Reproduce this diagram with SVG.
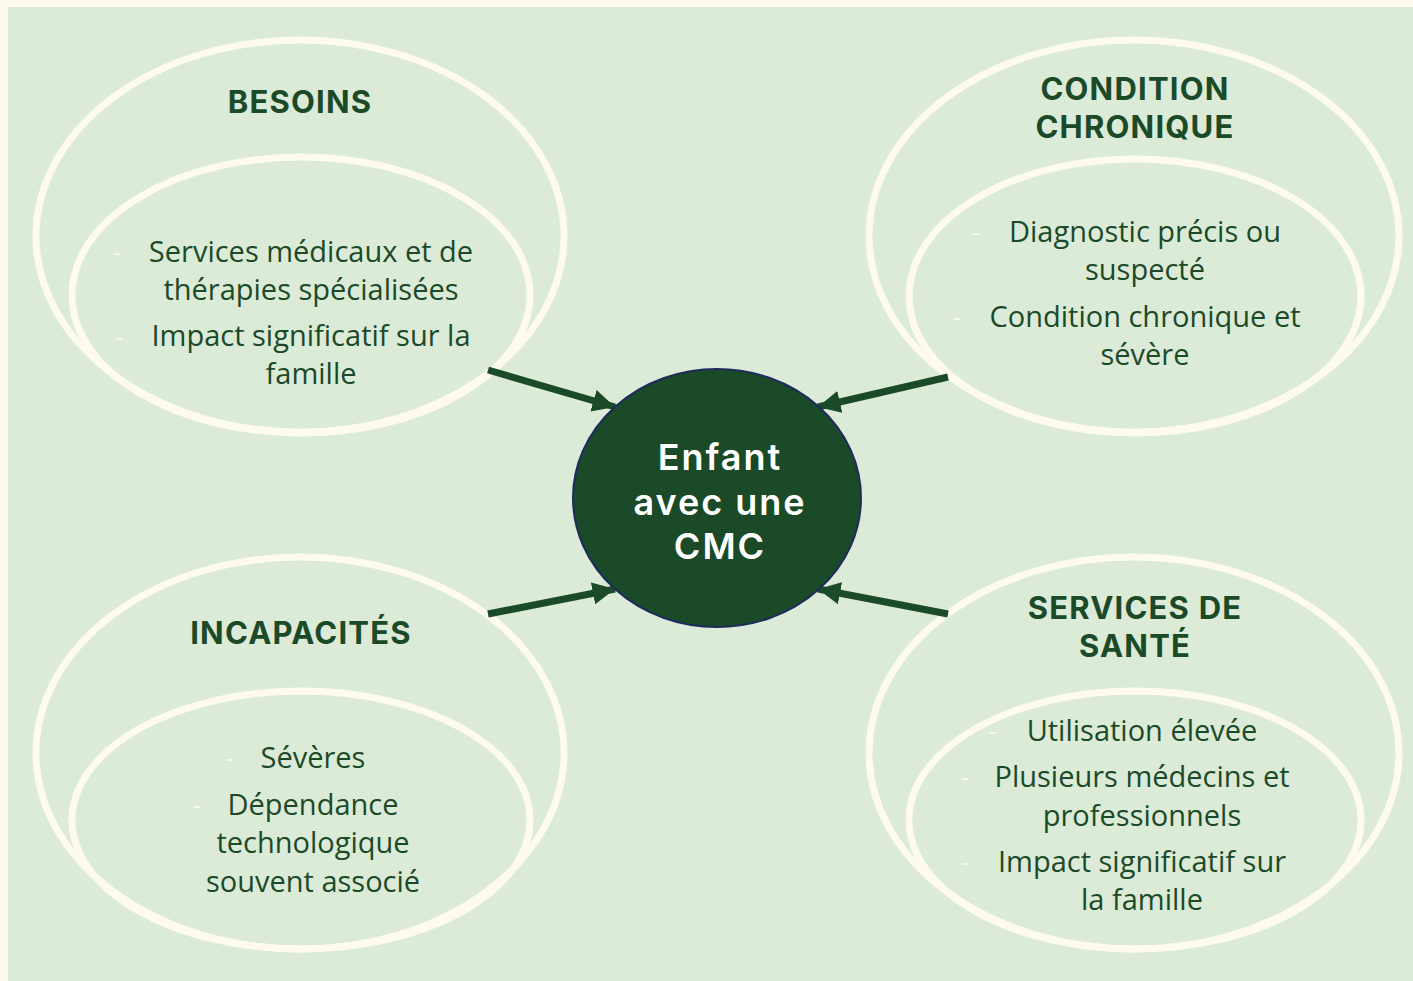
<svg xmlns="http://www.w3.org/2000/svg" width="1413" height="981" viewBox="0 0 1413 981">
<defs>
<style>
.ring{fill:none;stroke:#FEFBEE;stroke-width:7}
.title{font-family:Inter,"Open Sans",sans-serif;font-weight:700;font-size:31px;letter-spacing:1.2px;fill:#1B4A29;text-anchor:middle}
.body{font-family:"Open Sans","Noto Sans",sans-serif;font-size:29px;fill:#1B4A29;text-anchor:middle}
.dash{font-family:"Open Sans",sans-serif;font-size:27px;fill:#F4F7EC;text-anchor:middle}
.center{font-family:Inter,"Open Sans",sans-serif;font-weight:600;font-size:36px;letter-spacing:2px;fill:#FFFFFF;text-anchor:middle}
.conn{stroke:#1A4A27;stroke-width:7;fill:none}
</style>
<marker id="ah" viewBox="0 0 10 10" refX="10" refY="5" markerWidth="3.2" markerHeight="3.2" markerUnits="strokeWidth" orient="auto">
<path d="M0,0 L10,5 L0,10 z" fill="#1A4A27"/>
</marker>
</defs>
<rect x="0" y="0" width="1413" height="981" fill="#FEFBEE"/>
<rect x="8" y="7" width="1405" height="974" fill="#DBEBD7"/>

<g id="besoins">
<ellipse class="ring" cx="300" cy="236" rx="264" ry="196"/>
<ellipse class="ring" cx="301" cy="295" rx="229" ry="138"/>
<text class="title" x="300" y="113">BESOINS</text>
<text class="dash" x="117" y="261">-</text>
<text class="body" x="311" y="262">Services médicaux et de</text>
<text class="body" x="311" y="300">thérapies spécialisées</text>
<text class="dash" x="119" y="346">-</text>
<text class="body" x="311" y="346">Impact significatif sur la</text>
<text class="body" x="311" y="384">famille</text>
</g>

<g id="condition">
<ellipse class="ring" cx="1134" cy="236" rx="265" ry="196"/>
<ellipse class="ring" cx="1135" cy="296" rx="226" ry="137"/>
<text class="title" x="1135" y="100">CONDITION</text>
<text class="title" x="1135" y="138">CHRONIQUE</text>
<text class="dash" x="976" y="241">-</text>
<text class="body" x="1145" y="242">Diagnostic précis ou</text>
<text class="body" x="1145" y="280">suspecté</text>
<text class="dash" x="957" y="326">-</text>
<text class="body" x="1145" y="327">Condition chronique et</text>
<text class="body" x="1145" y="365">sévère</text>
</g>

<g id="incapacites">
<ellipse class="ring" cx="300" cy="753" rx="264" ry="196"/>
<ellipse class="ring" cx="301" cy="820" rx="229" ry="129"/>
<text class="title" x="301" y="644">INCAPACITÉS</text>
<text class="dash" x="230" y="767">-</text>
<text class="body" x="313" y="768">Sévères</text>
<text class="dash" x="197" y="814">-</text>
<text class="body" x="313" y="815">Dépendance</text>
<text class="body" x="313" y="853">technologique</text>
<text class="body" x="313" y="892">souvent associé</text>
</g>

<g id="services">
<ellipse class="ring" cx="1134" cy="753" rx="265" ry="196"/>
<ellipse class="ring" cx="1135" cy="820" rx="226" ry="129"/>
<text class="title" x="1135" y="619">SERVICES DE</text>
<text class="title" x="1135" y="657">SANTÉ</text>
<text class="dash" x="993" y="740">-</text>
<text class="body" x="1142" y="741">Utilisation élevée</text>
<text class="dash" x="965" y="786">-</text>
<text class="body" x="1142" y="787">Plusieurs médecins et</text>
<text class="body" x="1142" y="826">professionnels</text>
<text class="dash" x="965" y="871">-</text>
<text class="body" x="1142" y="872">Impact significatif sur</text>
<text class="body" x="1142" y="910">la famille</text>
</g>

<g id="connectors">
<line class="conn" x1="488" y1="370" x2="615" y2="407" marker-end="url(#ah)"/>
<line class="conn" x1="948" y1="377" x2="818" y2="407" marker-end="url(#ah)"/>
<line class="conn" x1="488" y1="614" x2="615" y2="589" marker-end="url(#ah)"/>
<line class="conn" x1="948" y1="614" x2="818" y2="589" marker-end="url(#ah)"/>
</g>

<g id="center">
<ellipse cx="717" cy="498" rx="144" ry="129" fill="#1A4A27" stroke="#1E2B5C" stroke-width="2"/>
<text class="center" x="720" y="470">Enfant</text>
<text class="center" x="720" y="515">avec une</text>
<text class="center" x="720" y="559">CMC</text>
</g>
</svg>
